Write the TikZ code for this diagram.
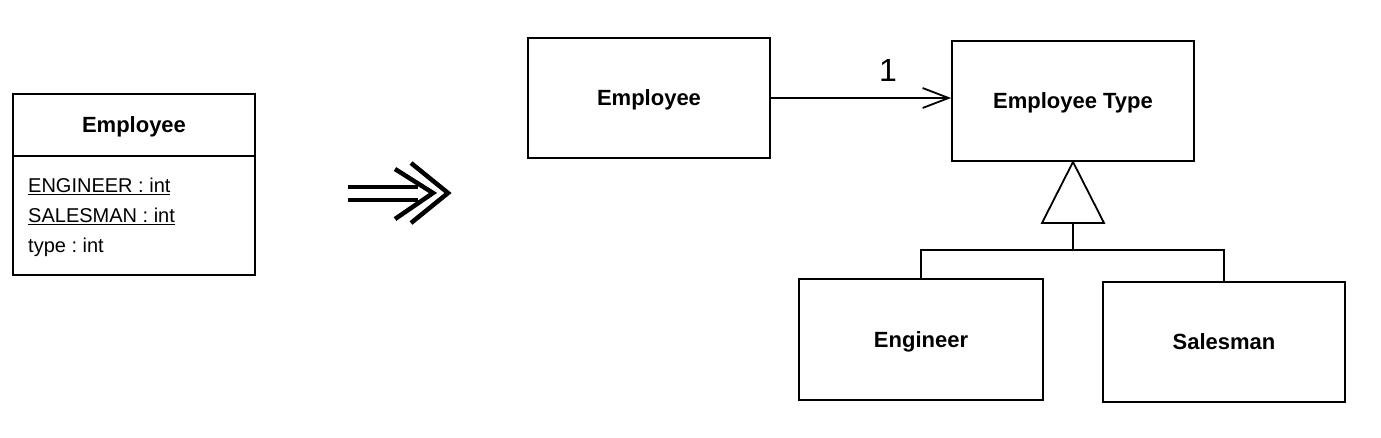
\documentclass[tikz,border=0pt]{standalone}
\usepackage{fontspec}
\setmainfont{Liberation Sans}
\usetikzlibrary{arrows.meta}
\frenchspacing
\begin{document}
\begin{tikzpicture}[x=1pt,y=-1pt,
  box/.style={draw, line width=1.8pt, inner sep=0pt, text depth=0pt},
  title/.style={font=\fontsize{22}{26}\selectfont\bfseries},
  attr/.style={font=\fontsize{20}{23}\selectfont, anchor=west, inner sep=0pt},
  conn/.style={line width=1.8pt}]
\useasboundingbox (0,0) rectangle (1381,437);
% left class
\node[box, title, minimum width=242pt, minimum height=62pt] (eh) at (134,125) {Employee};
\node[box, minimum width=242pt, minimum height=119pt] (ea) at (134,215.5) {};
\node[attr] (a1) at (28,186) {\underline{ENGINEER : int}};
\node[attr] (a2) at (28,216) {\underline{SALESMAN : int}};
\node[attr] (a3) at (28,247) {type : int};
% refactoring arrow
\draw[line width=4.5pt] (348,187) -- (418,187);
\draw[line width=4.5pt] (348,200) -- (418,200);
\draw[line width=4.5pt, miter limit=10] (395,169) -- (433,193) -- (395,219);
\draw[line width=4.5pt, miter limit=10] (411,163) -- (448,193) -- (411,223);
% right side
\node[box, title, minimum width=242pt, minimum height=120pt] (emp) at (649,98) {Employee};
\node[box, title, minimum width=242pt, minimum height=120pt] (et) at (1073,101) {Employee Type};
\node[box, title, minimum width=244pt, minimum height=121pt] (eng) at (921,339.5) {Engineer};
\node[box, title, minimum width=242pt, minimum height=120pt] (sal) at (1224,342) {Salesman};
\draw[conn, -{Straight Barb[length=26pt, width=20pt, line width=1.8pt]}] (emp.east) -- (et.west |- emp.east)
  node[pos=0.65, above=12pt, font=\fontsize{32}{36}\selectfont] (one) {1};
\coordinate (tb) at (1073,223);
\coordinate (j) at (1073,250);
\draw[conn, line join=miter] (et.south) -- (1104,223) -- (1042,223) -- cycle;
\draw[conn] (tb) -- (j);
\draw[conn] (eng.north) |- (j) -| (sal.north);
\end{tikzpicture}
\end{document}
